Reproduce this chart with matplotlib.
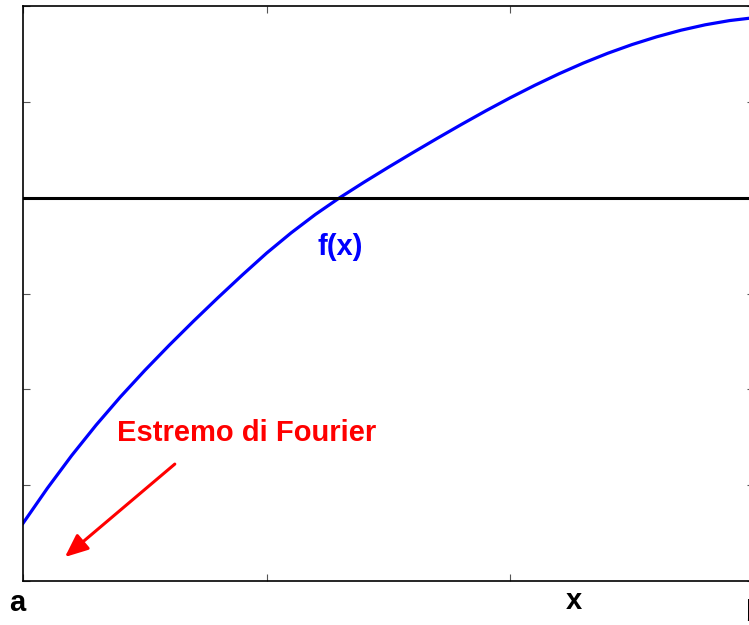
import matplotlib
matplotlib.use("Agg")
import matplotlib.pyplot as plt

x_vals = [0.0, 0.1, 0.2, 0.3, 0.4, 0.5, 0.6, 0.7, 0.8, 0.9, 1.0,
          1.1, 1.2, 1.3, 1.4, 1.5, 1.6, 1.7, 1.8, 1.9, 2.0,
          2.1, 2.2, 2.3, 2.4, 2.5, 2.6, 2.7, 2.8, 2.9, 3.0]
f_vals = [0.602, 0.968, 1.310, 1.627, 1.922, 2.198, 2.460, 2.712, 2.956, 3.193, 3.422,
          3.632, 3.825, 4.000, 4.162, 4.318, 4.470, 4.619, 4.765, 4.907, 5.043,
          5.172, 5.293, 5.405, 5.507, 5.598, 5.678, 5.747, 5.804, 5.848, 5.878]
h_level = 4.0
x_ticks = [0, 1, 2, 3]
y_ticks = [0, 1, 2, 3, 4, 5, 6]

plt.rcParams['font.family'] = ['Liberation Sans', 'DejaVu Sans']

fig = plt.figure(figsize=(7.49, 6.25), dpi=100)
ax = fig.add_axes([23/749, 44/625, 731/749, 575/625])

ax.plot(x_vals, f_vals, color='#0000ff', lw=2.3, solid_joinstyle='round')
ax.axhline(h_level, color='black', lw=2.2)

ax.set_xlim(0, 3)
ax.set_ylim(0, 6)
ax.set_xticks(x_ticks)
ax.set_yticks(y_ticks)
ax.tick_params(direction='in', length=5, width=0.8, color='#555555',
               top=True, right=True, labelbottom=False, labelleft=False)
for s in ax.spines.values():
    s.set_linewidth(1.2)

ax.text(1.303, 3.49, 'f(x)', color='#0000ff', fontsize=21, fontweight='bold',
        ha='center', va='center')
ax.text(0.385, 1.54, 'Estremo di Fourier', color='#ff0000', fontsize=21,
        fontweight='bold', ha='left', va='center')
ax.annotate('', xy=(0.172, 0.25), xytext=(0.623, 1.22),
            arrowprops=dict(arrowstyle='-|>,head_length=1.4,head_width=0.6',
                            color='#ff0000', lw=2.2, shrinkA=0, shrinkB=0))

ax.text(-0.025, -0.23, 'a', fontsize=21, fontweight='bold', ha='center',
        va='center', clip_on=False)
ax.text(2.262, -0.21, 'x', fontsize=21, fontweight='bold', ha='center',
        va='center', clip_on=False)
ax.text(3.0, -0.33, 'b', fontsize=21, fontweight='bold', ha='center',
        va='center', clip_on=False)

fig.savefig('out.png', dpi=100)
